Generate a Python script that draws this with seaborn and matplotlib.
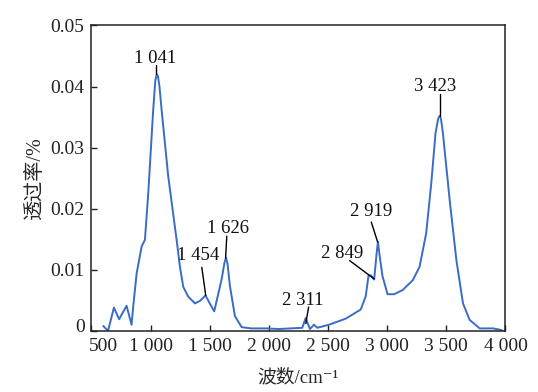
import numpy as np
import pandas as pd
import seaborn as sns
import matplotlib
matplotlib.use("Agg")
import matplotlib.pyplot as plt
from matplotlib.transforms import ScaledTranslation

# spectrum
wavenumber = [600, 640, 690, 734, 797, 839, 853, 882, 924, 952, 980, 1022, 1040, 1052, 1062,
              1075, 1093, 1149, 1220, 1248, 1276, 1318, 1375, 1417, 1464, 1500, 1538, 1600,
              1625, 1638, 1650, 1671, 1713, 1770, 1850, 1981, 2085, 2282, 2311, 2347, 2381,
              2409, 2508, 2650, 2777, 2819, 2842, 2862, 2890, 2910, 2922, 2935, 2960, 3003,
              3059, 3132, 3217, 3274, 3330, 3373, 3409, 3432, 3443, 3455, 3471, 3528, 3585,
              3641, 3697, 3782, 3895, 3951, 3979]
transmittance = [0.0008, 0.0000, 0.0038, 0.0019, 0.0041, 0.0010, 0.0040, 0.0094, 0.0138,
                 0.0149, 0.0225, 0.0362, 0.0410, 0.0420, 0.0417, 0.0400, 0.0362, 0.0253,
                 0.0149, 0.0105, 0.0072, 0.0056, 0.0045, 0.0049, 0.0058, 0.0045, 0.0032,
                 0.0084, 0.0112, 0.0120, 0.0110, 0.0073, 0.0024, 0.0006, 0.0004, 0.0004,
                 0.0003, 0.0005, 0.0021, 0.0003, 0.0010, 0.0005, 0.0010, 0.0020, 0.0035,
                 0.0057, 0.0090, 0.0091, 0.0084, 0.0125, 0.0146, 0.0125, 0.0090, 0.0060,
                 0.0060, 0.0067, 0.0083, 0.0105, 0.0160, 0.0242, 0.0324, 0.0348, 0.0352,
                 0.0347, 0.0324, 0.0215, 0.0116, 0.0045, 0.0018, 0.0004, 0.0004, 0.0002,
                 0.0000]

# peak labels: text position and leader line (top -> tip)
peak_text = ["1 041", "1 454", "1 626", "2 311", "2 849", "2 919", "3 423"]
text_x = [1041, 1405, 1655, 2290, 2620, 2866, 3405]
text_y = [0.0446, 0.0123, 0.0168, 0.0050, 0.0126, 0.0196, 0.0400]
line_x0 = [1045, 1433, 1644, 2336, 2683, 2866, 3447]
line_y0 = [0.0436, 0.0104, 0.0155, 0.0039, 0.0115, 0.0178, 0.0388]
line_x1 = [1045, 1466, 1634, 2312, 2890, 2920, 3447]
line_y1 = [0.0420, 0.0058, 0.0119, 0.0012, 0.0085, 0.0145, 0.0352]

xticks = [500, 1000, 1500, 2000, 2500, 3000, 3500, 4000]
xtick_labels = ["500", "1 000", "1 500", "2 000", "2 500", "3 000", "3 500", "4 000"]
yticks = [0, 0.01, 0.02, 0.03, 0.04, 0.05]
ytick_labels = ["0", "0.01", "0.02", "0.03", "0.04", "0.05"]

sns.set_theme(style="ticks")
plt.rcParams['font.family'] = ['Liberation Serif', 'Noto Sans CJK SC', 'DejaVu Sans']

df = pd.DataFrame({"wavenumber": wavenumber, "transmittance": transmittance})

fig = plt.figure(figsize=(5.38, 3.92), dpi=100)
ax = fig.add_axes([0.170, 0.156, 0.7695, 0.779])
sns.lineplot(data=df, x="wavenumber", y="transmittance", color="#3a6cc6",
             linewidth=1.4, ax=ax, sort=False)

for i in range(len(peak_text)):
    ax.plot([line_x0[i], line_x1[i]], [line_y0[i], line_y1[i]], color="black", linewidth=1.0)
    ax.text(text_x[i], text_y[i], peak_text[i], ha="center", va="center", fontsize=13.5, color="#111111")

ax.set_xlim(500, 4000)
ax.set_ylim(0, 0.05)
ax.set_xticks(xticks)
ax.set_xticklabels(xtick_labels)
ax.set_yticks(yticks)
ax.set_yticklabels(ytick_labels)
ax.tick_params(direction="in", length=4, width=1.0, labelsize=14, colors="#222222", pad=5)
for s in ax.spines.values():
    s.set_linewidth(1.1)
    s.set_color("#222222")

# the first x label sits a bit right and the "0" a bit up, as in the original
first_x = ax.get_xticklabels()[0]
first_x.set_transform(first_x.get_transform() + ScaledTranslation(12 / 100, 0, fig.dpi_scale_trans))
first_y = ax.get_yticklabels()[0]
first_y.set_transform(first_y.get_transform() + ScaledTranslation(0, 5 / 100, fig.dpi_scale_trans))

ax.set_xlabel("波数/cm⁻¹", fontsize=13.5, labelpad=10)
ax.set_ylabel("透过率/%", fontsize=14.5, labelpad=4)

fig.savefig("out.png", dpi=100)
